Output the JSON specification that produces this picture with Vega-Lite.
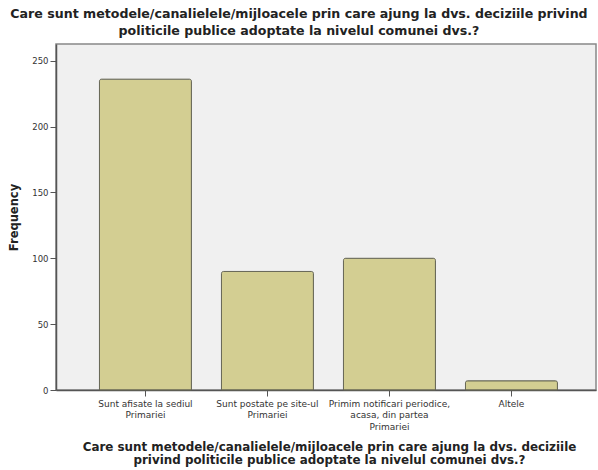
{
  "$schema": "https://vega.github.io/schema/vega-lite/v6.json",
  "autosize": "none",
  "width": 540,
  "height": 346,
  "padding": {"left": 56, "top": 44, "right": 2, "bottom": 80},
  "background": "white",
  "title": {
    "text": ["Care sunt metodele/canalielele/mijloacele prin care ajung la dvs. deciziile privind", "politicile publice adoptate la nivelul comunei dvs.?"],
    "font": "DejaVu Sans",
    "fontSize": 12.6,
    "fontWeight": "bold",
    "color": "#222222",
    "anchor": "middle",
    "offset": 6,
    "lineHeight": 17,
    "dx": -27
  },
  "data": {
    "values": [
      {"raspuns": "Sunt afisate la sediul|Primariei", "frecventa": 236},
      {"raspuns": "Sunt postate pe site-ul|Primariei", "frecventa": 90},
      {"raspuns": "Primim notificari periodice,|acasa, din partea|Primariei", "frecventa": 100},
      {"raspuns": "Altele", "frecventa": 7}
    ]
  },
  "config": {
    "view": {"fill": "#f0f0f0", "stroke": "#888888", "strokeWidth": 1.5},
    "axis": {"grid": false, "domainColor": "#555555", "tickColor": "#555555", "labelFont": "DejaVu Sans", "titleFont": "DejaVu Sans", "labelColor": "#333333"}
  },
  "mark": {"type": "bar", "fill": "#d3ce92", "stroke": "#666655", "strokeWidth": 1, "cornerRadiusTopLeft": 2, "cornerRadiusTopRight": 2},
  "encoding": {
    "x": {
      "field": "raspuns",
      "type": "nominal",
      "sort": null,
      "scale": {"paddingInner": 0.246, "paddingOuter": 0.336, "align": 0.53},
      "axis": {
        "labelAngle": 0,
        "labelFontSize": 9,
        "labelExpr": "split(datum.label, '|')",
        "labelLineHeight": 11.5,
        "labelPadding": 3,
        "title": ["Care sunt metodele/canalielele/mijloacele prin care ajung la dvs. deciziile", "privind politicile publice adoptate la nivelul comunei dvs.?"],
        "titleFontSize": 11.9,
        "titleFontWeight": "bold",
        "titleColor": "#222222",
        "titleLineHeight": 13,
        "titlePadding": 10,
        "titleX": 273,
        "tickSize": 6,
        "domainWidth": 1.5
      }
    },
    "y": {
      "field": "frecventa",
      "type": "quantitative",
      "scale": {"domain": [0, 262.7], "nice": false},
      "axis": {
        "values": [0, 50, 100, 150, 200, 250],
        "labelFontSize": 8.5,
        "tickSize": 6,
        "labelPadding": 2,
        "title": "Frequency",
        "titleFontSize": 11.5,
        "titleFontWeight": "bold",
        "titleColor": "#222222",
        "titlePadding": 12,
        "domainWidth": 1.5
      }
    }
  }
}
